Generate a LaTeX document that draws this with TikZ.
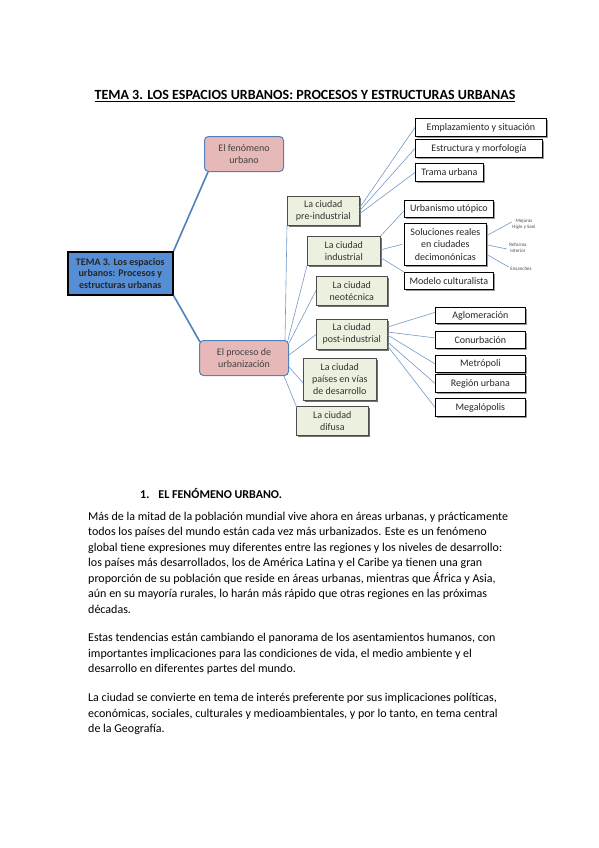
\documentclass[tikz,border=0pt]{standalone}
\usepackage{fontspec}
\setmainfont{Carlito}
\usetikzlibrary{shadows,calc}
\definecolor{lblue}{HTML}{4F81BD}
\definecolor{pinkf}{HTML}{E6B9B8}
\definecolor{cblue}{HTML}{558ED5}
\definecolor{greenf}{HTML}{EBF1DE}
\tikzset{
  base box/.style={anchor=north west, align=center, inner sep=1pt},
  pinkbox/.style={base box, draw=lblue, line width=1pt, fill=pinkf, rounded corners=4pt,
    font=\fontsize{10}{12}\selectfont, text=black!75},
  mainbox/.style={base box, draw=black, line width=1.6pt, fill=cblue,
    font=\bfseries\fontsize{10}{11.5}\selectfont, text=black!85},
  greenbox/.style={base box, draw=black!70, line width=0.6pt, fill=greenf,
    drop shadow={shadow xshift=1.2pt, shadow yshift=-1.2pt, fill=black!55, opacity=1},
    font=\fontsize{10}{12}\selectfont, text=black!80},
  whitebox/.style={base box, draw=black, line width=0.8pt, fill=white,
    drop shadow={shadow xshift=1.2pt, shadow yshift=-1.2pt, fill=black!40, opacity=1},
    font=\fontsize{10}{12.5}\selectfont, text=black!85},
  tiny/.style={align=center, inner sep=0.5pt, font=\fontsize{5}{6}\selectfont, text=black!70},
  thick link/.style={draw=lblue, line width=1.6pt},
  link/.style={draw=lblue!80, line width=0.6pt},
  body/.style={anchor=base west, inner sep=0pt, font=\fontsize{12}{14}\selectfont}
}
\begin{document}
\begin{tikzpicture}[x=1pt,y=-1pt]
\useasboundingbox[fill=white] (0,0) rectangle (599,848);

\node[anchor=base, inner sep=0pt, font=\bfseries\fontsize{14}{16}\selectfont] (title) at (305,100)
  {\underline{TEMA 3. LOS ESPACIOS URBANOS: PROCESOS Y ESTRUCTURAS URBANAS}};

% main nodes
\node[pinkbox, minimum width=79pt, minimum height=35pt] (fen) at (204,136) {El fenómeno\\urbano};
\node[mainbox, minimum width=105pt, minimum height=43pt] (main) at (67,251) {TEMA 3. Los espacios\\urbanos: Procesos y\\estructuras urbanas};
\node[pinkbox, minimum width=89pt, minimum height=35pt] (proc) at (199,340) {El proceso de\\urbanización};

% green nodes
\node[greenbox, minimum width=72pt, minimum height=29pt] (pre) at (287,196) {La ciudad\\pre-industrial};
\node[greenbox, minimum width=73pt, minimum height=29pt] (ind) at (307,236) {La ciudad\\industrial};
\node[greenbox, minimum width=71pt, minimum height=29pt] (neo) at (316,276) {La ciudad\\neotécnica};
\node[greenbox, minimum width=71pt, minimum height=30pt] (post) at (316,319) {La ciudad\\post-industrial};
\node[greenbox, minimum width=73pt, minimum height=42pt] (pais) at (303,358) {La ciudad\\países en vías\\de desarrollo};
\node[greenbox, minimum width=72pt, minimum height=29pt] (dif) at (296,406) {La ciudad\\difusa};

% white nodes
\node[whitebox, minimum width=131pt, minimum height=18pt] (emp) at (415,118) {Emplazamiento y situación};
\node[whitebox, minimum width=127pt, minimum height=18pt] (est) at (415,139) {Estructura y morfología};
\node[whitebox, minimum width=68pt, minimum height=18pt] (tra) at (415,163) {Trama urbana};
\node[whitebox, minimum width=89pt, minimum height=17pt] (uto) at (404,200) {Urbanismo utópico};
\node[whitebox, minimum width=82pt, minimum height=42pt] (sol) at (404,223) {Soluciones reales\\en ciudades\\decimonónicas};
\node[whitebox, minimum width=89pt, minimum height=17pt] (mod) at (404,272) {Modelo culturalista};
\node[whitebox, minimum width=90pt, minimum height=16pt] (agl) at (435,307) {Aglomeración};
\node[whitebox, minimum width=90pt, minimum height=17pt] (con) at (435,331) {Conurbación};
\node[whitebox, minimum width=90pt, minimum height=17pt] (met) at (435,355) {Metrópoli};
\node[whitebox, minimum width=90pt, minimum height=18pt] (reg) at (435,374) {Región urbana};
\node[whitebox, minimum width=90pt, minimum height=18pt] (meg) at (435,398) {Megalópolis};

% tiny notes
\node[tiny] (mej) at (524,224) {Mejoras\\Higie y Sani};
\node[tiny] (ref) at (518,248) {Reforma\\Interior};
\node[tiny] (ens) at (521,269) {Ensanches};

% thick links
\draw[thick link] (main.north east) -- ($(fen.south west)+(4,0)$);
\draw[thick link] (main.south east) -- ($(proc.north west)+(1,2)$);

% links from proceso
\draw[link] ($(proc.north east)+(-4,0)$) -- (pre.south west);
\draw[link] ($(proc.north east)+(-1,0)$) -- (ind.south west);
\draw[link] ($(proc.north east)+(0,3)$) -- ($(neo.south west)+(0,-15)$);
\draw[link] ($(proc.east)+(0,-3)$) -- ($(post.south west)+(0,-15)$);
\draw[link] ($(proc.east)+(0,9)$) -- ($(pais.north west)+(0,25)$);
\draw[link] ($(proc.south east)+(-5,0)$) -- ($(dif.north west)+(1,2)$);

% pre-industrial links
\draw[link] ($(pre.east)+(0,-3)$) -- (emp.west);
\draw[link] ($(pre.east)+(0,0)$) -- (est.west);
\draw[link] ($(pre.east)+(0,3)$) -- (tra.west);

% industrial links
\draw[link] (ind.north east) -- ($(uto.west)+(0,2)$);
\draw[link] ($(ind.east)+(0,-1)$) -- ($(sol.west)+(-2,0)$);
\draw[link] ($(ind.south east)+(0,-8)$) -- (mod.north west);

% soluciones notes
\draw[link] ($(sol.north east)+(1,12)$) -- ($(mej.west)+(0,-2)$);
\draw[link] ($(sol.north east)+(1,22)$) -- ($(ref.west)+(-2,1)$);
\draw[link] ($(sol.north east)+(1,32)$) -- ($(ens.west)+(-1,-2)$);

% post-industrial links
\draw[link] ($(post.north east)+(0,8)$) -- ($(agl.west)+(0,-3)$);
\draw[link] ($(post.north east)+(0,13)$) -- ($(con.west)+(0,-2)$);
\draw[link] ($(post.north east)+(0,16)$) -- (met.west);
\draw[link] ($(post.north east)+(0,23)$) -- (reg.west);
\draw[link] ($(post.north east)+(0,27)$) -- (meg.west);

% text section
\node[body, font=\bfseries\fontsize{12}{14}\selectfont] (head) at (140,498.5) {1.\hspace{9pt}EL FENÓMENO URBANO.};

\foreach \t [count=\i] in {
  {Más de la mitad de la población mundial vive ahora en áreas urbanas, y prácticamente},
  {todos los países del mundo están cada vez más urbanizados. Este es un fenómeno},
  {global tiene expresiones muy diferentes entre las regiones y los niveles de desarrollo:},
  {los países más desarrollados, los de América Latina y el Caribe ya tienen una gran},
  {proporción de su población que reside en áreas urbanas, mientras que África y Asia,},
  {aún en su mayoría rurales, lo harán más rápido que otras regiones en las próximas},
  {décadas.}}
  \node[body] (pa\i) at (88,{520+15.5*(\i-1)}) {\t};

\foreach \t [count=\i] in {
  {Estas tendencias están cambiando el panorama de los asentamientos humanos, con},
  {importantes implicaciones para las condiciones de vida, el medio ambiente y el},
  {desarrollo en diferentes partes del mundo.}}
  \node[body] (pb\i) at (88,{641.5+15.5*(\i-1)}) {\t};

\foreach \t [count=\i] in {
  {La ciudad se convierte en tema de interés preferente por sus implicaciones políticas,},
  {económicas, sociales, culturales y medioambientales, y por lo tanto, en tema central},
  {de la Geografía.}}
  \node[body] (pc\i) at (88,{701.5+15.5*(\i-1)}) {\t};
\end{tikzpicture}
\end{document}
